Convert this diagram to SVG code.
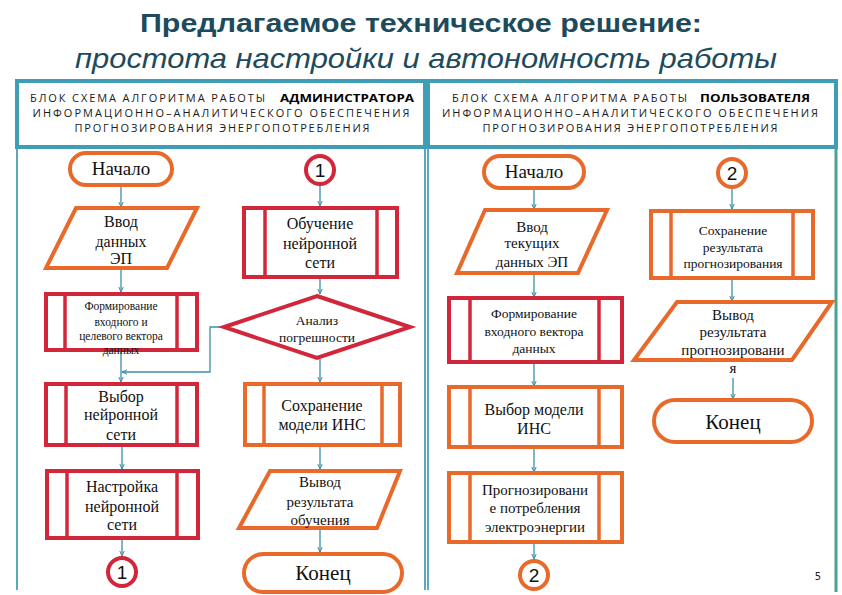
<svg xmlns="http://www.w3.org/2000/svg" width="842" height="595" viewBox="0 0 842 595">
<defs>
<style>
.bg{fill:#ffffff}
.title{font-family:'Liberation Sans',Arial,sans-serif;font-weight:bold;font-size:26px;fill:#1d4b5b}
.sub{font-family:'Liberation Sans',Arial,sans-serif;font-style:italic;font-size:28px;fill:#1d4b5b}
.hdr{font-family:'Open Sans','DejaVu Sans',sans-serif;font-size:11px;fill:#1a1a1a}
.hdrb{font-family:'Open Sans','DejaVu Sans',sans-serif;font-size:11px;font-weight:bold;fill:#000}
.frame{fill:none;stroke:#3f9db5;stroke-width:4}
.thin{fill:none;stroke:#5aa9bd;stroke-width:2}
.red{fill:#fff;stroke:#d2273a;stroke-width:4}
.org{fill:#fff;stroke:#e8692a;stroke-width:4}
.redl{stroke:#d2273a;stroke-width:3.5}
.orgl{stroke:#e8692a;stroke-width:3.5}
.t{font-family:'Liberation Serif','Times New Roman',serif;font-size:16px;fill:#111;text-anchor:middle}
.m{font-size:15px}
.s{font-size:13.5px}
.xs{font-size:11.5px}
.big{font-size:19px}
.end{font-size:21px}
.num{font-family:'Liberation Sans',Arial,sans-serif;font-size:19px;fill:#111;text-anchor:middle}
.conn{fill:none;stroke:#3a90a8;stroke-width:1.3}
</style>
<marker id="arr" markerWidth="6" markerHeight="6" refX="5" refY="3" orient="auto" markerUnits="userSpaceOnUse">
<path d="M0,0.8 L5,3 L0,5.2" fill="none" stroke="#3a90a8" stroke-width="1"/>
</marker>
</defs>
<rect class="bg" x="0" y="0" width="842" height="595"/>

<g id="title">
<text class="title" x="421" y="32" text-anchor="middle" textLength="562" lengthAdjust="spacingAndGlyphs">Предлагаемое техническое решение:</text>
<text class="sub" x="426" y="68" text-anchor="middle" textLength="702" lengthAdjust="spacingAndGlyphs">простота настройки и автономность работы</text>
</g>

<g id="frame">
<line class="thin" x1="17" y1="147" x2="17" y2="590"/>
<line class="thin" x1="425" y1="147" x2="425" y2="590"/>
<line class="thin" x1="428" y1="147" x2="428" y2="590"/>
<line x1="836" y1="147" x2="836" y2="592" stroke="#4aa296" stroke-width="3"/>
<rect class="frame" x="17" y="81" width="408" height="66"/>
<rect class="frame" x="428" y="81" width="408" height="66"/>
</g>

<g id="header-left">
<text class="hdr" x="30" y="102" textLength="235" lengthAdjust="spacing">БЛОК СХЕМА АЛГОРИТМА РАБОТЫ</text>
<text class="hdrb" x="280" y="102" textLength="134" lengthAdjust="spacingAndGlyphs">АДМИНИСТРАТОРА</text>
<text class="hdr" x="221" y="117" text-anchor="middle" textLength="377" lengthAdjust="spacing">ИНФОРМАЦИОННО–АНАЛИТИЧЕСКОГО ОБЕСПЕЧЕНИЯ</text>
<text class="hdr" x="222" y="132" text-anchor="middle" textLength="295" lengthAdjust="spacing">ПРОГНОЗИРОВАНИЯ ЭНЕРГОПОТРЕБЛЕНИЯ</text>
</g>
<g id="header-right">
<text class="hdr" x="452" y="102" textLength="235" lengthAdjust="spacing">БЛОК СХЕМА АЛГОРИТМА РАБОТЫ</text>
<text class="hdrb" x="700" y="102" textLength="110" lengthAdjust="spacingAndGlyphs">ПОЛЬЗОВАТЕЛЯ</text>
<text class="hdr" x="630" y="117" text-anchor="middle" textLength="376" lengthAdjust="spacing">ИНФОРМАЦИОННО–АНАЛИТИЧЕСКОГО ОБЕСПЕЧЕНИЯ</text>
<text class="hdr" x="630" y="132" text-anchor="middle" textLength="295" lengthAdjust="spacing">ПРОГНОЗИРОВАНИЯ ЭНЕРГОПОТРЕБЛЕНИЯ</text>
</g>

<g id="connectors">
<line class="conn" x1="121" y1="186" x2="121" y2="207" marker-end="url(#arr)"/>
<line class="conn" x1="121" y1="269" x2="121" y2="292" marker-end="url(#arr)"/>
<line class="conn" x1="121" y1="351" x2="121" y2="382" marker-end="url(#arr)"/>
<polyline class="conn" points="223,327 210,327 210,372 122,372" marker-end="url(#arr)"/>
<line class="conn" x1="122" y1="446" x2="122" y2="469" marker-end="url(#arr)"/>
<line class="conn" x1="122" y1="539" x2="122" y2="556" marker-end="url(#arr)"/>

<line class="conn" x1="320" y1="185" x2="320" y2="206" marker-end="url(#arr)"/>
<line class="conn" x1="320" y1="278" x2="320" y2="294" marker-end="url(#arr)"/>
<line class="conn" x1="320" y1="359" x2="320" y2="382" marker-end="url(#arr)"/>
<line class="conn" x1="320" y1="446" x2="320" y2="469" marker-end="url(#arr)"/>
<line class="conn" x1="320" y1="529" x2="320" y2="552" marker-end="url(#arr)"/>

<line class="conn" x1="534" y1="189" x2="534" y2="209" marker-end="url(#arr)"/>
<line class="conn" x1="534" y1="274" x2="534" y2="297" marker-end="url(#arr)"/>
<line class="conn" x1="534" y1="363" x2="534" y2="386" marker-end="url(#arr)"/>
<line class="conn" x1="534" y1="448" x2="534" y2="472" marker-end="url(#arr)"/>
<line class="conn" x1="534" y1="543" x2="534" y2="559" marker-end="url(#arr)"/>

<line class="conn" x1="732" y1="188" x2="732" y2="209" marker-end="url(#arr)"/>
<line class="conn" x1="732" y1="279" x2="732" y2="301" marker-end="url(#arr)"/>
<line class="conn" x1="733" y1="378" x2="733" y2="399" marker-end="url(#arr)"/>
</g>

<g id="n-start-a">
<rect class="org" x="70" y="153" width="102" height="32" rx="16"/>
<text class="t big" x="121" y="175">Начало</text>
</g>
<g id="n-input-a">
<polygon class="org" points="76,208 197,208 167,268 46,268"/>
<text class="t" x="121" y="227">Ввод</text>
<text class="t" x="121" y="247">данных</text>
<text class="t" x="121" y="264">ЭП</text>
</g>
<g id="n-form-a">
<rect class="red" x="46" y="294" width="151" height="56"/>
<line class="redl" x1="65" y1="294" x2="65" y2="350"/>
<line class="redl" x1="177" y1="294" x2="177" y2="350"/>
<text class="t xs" x="121" y="310">Формирование</text>
<text class="t xs" x="121" y="326">входного и</text>
<text class="t xs" x="121" y="340">целевого вектора</text>
<text class="t xs" x="121" y="354">данных</text>
</g>
<g id="n-select-a">
<rect class="red" x="46" y="384" width="151" height="61"/>
<line class="redl" x1="66" y1="384" x2="66" y2="445"/>
<line class="redl" x1="177" y1="384" x2="177" y2="445"/>
<text class="t" x="121" y="402">Выбор</text>
<text class="t" x="121" y="420">нейронной</text>
<text class="t" x="121" y="440">сети</text>
</g>
<g id="n-tune-a">
<rect class="red" x="47" y="471" width="151" height="67"/>
<line class="redl" x1="67" y1="471" x2="67" y2="538"/>
<line class="redl" x1="177" y1="471" x2="177" y2="538"/>
<text class="t" x="122" y="492">Настройка</text>
<text class="t" x="122" y="512">нейронной</text>
<text class="t" x="122" y="530">сети</text>
</g>
<g id="n-conn1-out">
<circle class="red" cx="122" cy="572" r="14"/>
<text class="num" x="122" y="579">1</text>
</g>

<g id="n-conn1-in">
<circle class="red" cx="320" cy="170" r="14"/>
<text class="num" x="320" y="177">1</text>
</g>
<g id="n-train">
<rect class="red" x="244" y="208" width="153" height="69"/>
<line class="redl" x1="265" y1="208" x2="265" y2="277"/>
<line class="redl" x1="377" y1="208" x2="377" y2="277"/>
<text class="t" x="320" y="229">Обучение</text>
<text class="t" x="320" y="249">нейронной</text>
<text class="t" x="320" y="268">сети</text>
</g>
<g id="n-analysis">
<polygon class="red" points="317,296 410,327 317,358 224,327"/>
<text class="t s" x="317" y="325">Анализ</text>
<text class="t s" x="317" y="342">погрешности</text>
</g>
<g id="n-save-model">
<rect class="org" x="245" y="384" width="155" height="61"/>
<line class="orgl" x1="264" y1="384" x2="264" y2="445"/>
<line class="orgl" x1="382" y1="384" x2="382" y2="445"/>
<text class="t" x="322" y="411">Сохранение</text>
<text class="t" x="322" y="430">модели ИНС</text>
</g>
<g id="n-output-train">
<polygon class="org" points="270,471 400,471 377,528 239,528"/>
<text class="t m" x="320" y="487">Вывод</text>
<text class="t m" x="320" y="507">результата</text>
<text class="t m" x="320" y="525">обучения</text>
</g>
<g id="n-end-a">
<rect class="org" x="244" y="554" width="158" height="38" rx="19"/>
<text class="t end" x="323" y="580">Конец</text>
</g>

<g id="n-start-u">
<rect class="org" x="484" y="156" width="100" height="32" rx="16"/>
<text class="t big" x="534" y="178">Начало</text>
</g>
<g id="n-input-u">
<polygon class="org" points="485,210 607,210 578,273 457,273"/>
<text class="t m" x="532" y="232">Ввод</text>
<text class="t m" x="532" y="248">текущих</text>
<text class="t m" x="532" y="267">данных ЭП</text>
</g>
<g id="n-form-u">
<rect class="red" x="449" y="298" width="173" height="64"/>
<line class="redl" x1="470" y1="298" x2="470" y2="362"/>
<line class="redl" x1="599" y1="298" x2="599" y2="362"/>
<text class="t s" x="534" y="318">Формирование</text>
<text class="t s" x="534" y="336">входного вектора</text>
<text class="t s" x="534" y="353">данных</text>
</g>
<g id="n-select-u">
<rect class="org" x="449" y="387" width="173" height="60"/>
<line class="orgl" x1="470" y1="387" x2="470" y2="447"/>
<line class="orgl" x1="599" y1="387" x2="599" y2="447"/>
<text class="t" x="534" y="415">Выбор модели</text>
<text class="t" x="534" y="434">ИНС</text>
</g>
<g id="n-forecast">
<rect class="org" x="449" y="473" width="173" height="69"/>
<line class="orgl" x1="470" y1="473" x2="470" y2="542"/>
<line class="orgl" x1="599" y1="473" x2="599" y2="542"/>
<text class="t m" x="535" y="495">Прогнозировани</text>
<text class="t m" x="535" y="513">е потребления</text>
<text class="t m" x="535" y="532">электроэнергии</text>
</g>
<g id="n-conn2-out">
<circle class="org" cx="534" cy="575" r="14"/>
<text class="num" x="534" y="582">2</text>
</g>

<g id="n-conn2-in">
<circle class="org" cx="732" cy="173" r="14"/>
<text class="num" x="732" y="180">2</text>
</g>
<g id="n-save-result">
<rect class="org" x="651" y="211" width="162" height="67"/>
<line class="orgl" x1="671" y1="211" x2="671" y2="278"/>
<line class="orgl" x1="793" y1="211" x2="793" y2="278"/>
<text class="t s" x="733" y="235">Сохранение</text>
<text class="t s" x="733" y="252">результата</text>
<text class="t s" x="733" y="268">прогнозирования</text>
</g>
<g id="n-output-result">
<polygon class="org" points="677,302 832,302 792,360 634,360"/>
<text class="t m" x="733" y="320">Вывод</text>
<text class="t m" x="733" y="337">результата</text>
<text class="t m" x="733" y="355">прогнозировани</text>
<text class="t m" x="733" y="373">я</text>
</g>
<g id="n-end-u">
<rect class="org" x="654" y="400" width="158" height="42" rx="21"/>
<text class="t end" x="733" y="429">Конец</text>
</g>

<text x="818" y="580" font-family="DejaVu Sans, sans-serif" font-size="10" fill="#222" text-anchor="middle">5</text>
</svg>
